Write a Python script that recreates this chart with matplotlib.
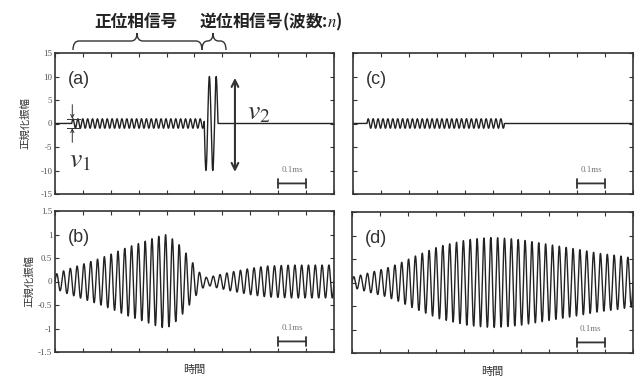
import numpy as np
import matplotlib
matplotlib.use("Agg")
import matplotlib.pyplot as plt
from matplotlib.path import Path
from matplotlib.patches import PathPatch

plt.rcParams['font.family'] = ['Noto Sans CJK JP', 'DejaVu Sans']
plt.rcParams['mathtext.fontset'] = 'stix'
plt.rcParams['axes.unicode_minus'] = False

# --- values (time in ms) ---
f_pos = 57.0            # cycles per ms, positive-phase burst (a), (c)
f_cw = 41.0             # cycles per ms, received signal (b), (d)
pos_amp = 1.0           # v1
neg_amp = 10.0          # v2
neg_cycles = 2          # n
a_start, a_end = 0.06, 0.535
c_start, c_end = 0.05, 0.54

b_env_t = [0, 0.04, 0.09, 0.15, 0.20, 0.26, 0.32, 0.37, 0.40, 0.44, 0.47, 0.49,
           0.52, 0.545, 0.57, 0.63, 0.70, 0.76, 0.85, 1.0]
b_env_a = [0.15, 0.25, 0.35, 0.47, 0.58, 0.73, 0.85, 0.96, 1.0, 0.82, 0.60, 0.43,
           0.18, 0.08, 0.12, 0.20, 0.28, 0.33, 0.35, 0.35]
d_env_t = [0, 0.015, 0.075, 0.12, 0.17, 0.22, 0.265, 0.31, 0.36, 0.41, 0.455, 0.50,
           0.55, 0.60, 0.67, 0.74, 0.81, 0.88, 0.95, 1.0]
d_env_a = [0.12, 0.13, 0.23, 0.30, 0.41, 0.55, 0.66, 0.77, 0.84, 0.91, 0.94, 0.96,
           0.94, 0.91, 0.84, 0.77, 0.70, 0.62, 0.57, 0.52]

yticks_top = [15, 10, 5, 0, -5, -10, -15]
yticks_bot = [1.5, 1, 0.5, 0, -0.5, -1, -1.5]
ytick_bot_labels = ['1.5', '1', '0.5', '0', '-0.5', '-1', '-1.5']

t = np.linspace(0, 1.0, 20000)

sig_a = np.zeros_like(t)
m = (t >= a_start) & (t < a_end)
sig_a[m] = pos_amp * np.sin(2 * np.pi * f_pos * (t[m] - a_start))
a_neg_end = a_end + neg_cycles / f_cw
m = (t >= a_end) & (t < a_neg_end)
sig_a[m] = -neg_amp * np.sin(2 * np.pi * f_cw * (t[m] - a_end))

sig_c = np.zeros_like(t)
m = (t >= c_start) & (t < c_end)
sig_c[m] = pos_amp * np.sin(2 * np.pi * f_pos * (t[m] - c_start))

sig_b = np.interp(t, b_env_t, b_env_a) * np.sin(2 * np.pi * f_cw * t)
sig_d = np.interp(t, d_env_t, d_env_a) * np.sin(2 * np.pi * f_cw * t)

W, H = 643, 376
fig = plt.figure(figsize=(W / 100, H / 100), dpi=100)


def px_axes(l, top, r, b):
    return fig.add_axes([l / W, 1 - b / H, (r - l) / W, (b - top) / H])


ax_a = px_axes(55, 53, 334, 194)
ax_c = px_axes(353, 53, 633, 194)
ax_b = px_axes(55, 211, 334, 352)
ax_d = px_axes(352, 212, 633, 353)

line_col = '#222222'
for ax, sig, lab in [(ax_a, sig_a, '(a)'), (ax_c, sig_c, '(c)'),
                     (ax_b, sig_b, '(b)'), (ax_d, sig_d, '(d)')]:
    ax.plot(t, sig, color=line_col, lw=1.0)
    ax.set_xlim(0, 1.0)
    ax.set_xticks(np.arange(0, 1.01, 0.1))
    ax.set_xticklabels([])
    ax.tick_params(direction='in', length=3, width=0.8, top=True, right=True,
                   labelsize=6.5, labelcolor='#555555', colors='#333333', pad=2)
    for s in ax.spines.values():
        s.set_linewidth(1.2)
        s.set_color('#333333')
    ax.text(0.045, 0.81, lab, transform=ax.transAxes, fontsize=13,
            family='Liberation Sans', color='#333333', va='center', ha='left')
    # 0.1 ms scale bar
    yb = 0.075
    ax.annotate('', xy=(0.8, yb), xytext=(0.9, yb), xycoords=ax.get_xaxis_transform(),
                arrowprops=dict(arrowstyle='|-|', lw=1.3, color='#333333', mutation_scale=3,
                                shrinkA=0, shrinkB=0))
    ax.text(0.85, yb + 0.095, '0.1ms', transform=ax.get_xaxis_transform(), fontsize=6.5,
            family='Liberation Serif', color='#777777', ha='center', va='center')

for ax in (ax_a, ax_c):
    ax.set_ylim(-15, 15)
    ax.set_yticks(yticks_top)
for ax in (ax_b, ax_d):
    ax.set_ylim(-1.5, 1.5)
    ax.set_yticks(yticks_bot)

for lab in ax_a.get_yticklabels():
    lab.set_family('Liberation Serif')
ax_b.set_yticklabels(ytick_bot_labels, family='Liberation Serif')
ax_c.set_yticklabels([])
ax_d.set_yticklabels([])

ax_a.set_ylabel('正規化振幅', fontsize=7.5, color='#333333', labelpad=7)
ax_b.set_ylabel('正規化振幅', fontsize=7.5, color='#333333', labelpad=3)
ax_b.set_xlabel('時間', fontsize=8, color='#333333', labelpad=7)
ax_d.set_xlabel('時間', fontsize=8, color='#333333', labelpad=8)

# v1 marker
ax_a.plot([0.043, 0.09], [pos_amp, pos_amp], color='#333333', lw=0.7)
ax_a.plot([0.043, 0.09], [-pos_amp, -pos_amp], color='#333333', lw=0.7)
ax_a.annotate('', xy=(0.062, pos_amp), xytext=(0.062, 4.0),
              arrowprops=dict(arrowstyle='->', lw=0.7, color='#333333', mutation_scale=6, shrinkA=0, shrinkB=0))
ax_a.annotate('', xy=(0.062, -pos_amp), xytext=(0.062, -4.0),
              arrowprops=dict(arrowstyle='->', lw=0.7, color='#333333', mutation_scale=6, shrinkA=0, shrinkB=0))
ax_a.text(0.09, -7.6, r'$v_1$', fontsize=20, color='#333333', ha='center', va='center')

# v2 marker
ax_a.annotate('', xy=(0.645, 9.7), xytext=(0.645, -10.3),
              arrowprops=dict(arrowstyle='<->', lw=1.5, color='#333333', mutation_scale=12, shrinkA=0, shrinkB=0))
ax_a.text(0.73, 2.6, r'$v_2$', fontsize=20, color='#333333', ha='center', va='center')


def brace(x0, x1, xc, yl, ym, yt):
    r = min(6, (xc - x0) / 2, (x1 - xc) / 2)
    pts = [(x0, yl), (x0, ym), (x0 + r, ym), (xc - r, ym), (xc, ym), (xc, yt),
           (xc, ym), (xc + r, ym), (x1 - r, ym), (x1, ym), (x1, yl)]
    codes = [Path.MOVETO, Path.CURVE3, Path.CURVE3, Path.LINETO, Path.CURVE3, Path.CURVE3,
             Path.CURVE3, Path.CURVE3, Path.LINETO, Path.CURVE3, Path.CURVE3]
    pts = [(x / W, 1 - y / H) for x, y in pts]
    fig.add_artist(PathPatch(Path(pts, codes), fill=False, lw=1.0, ec='#333333',
                             transform=fig.transFigure))


brace(73, 202, 137, 50, 41, 33)
brace(202, 226, 213, 50, 41, 33)

fig.text(136 / W, 1 - 22 / H, '正位相信号', fontsize=12, color='#222222',
         ha='center', va='center', fontweight='bold')
fig.text(199 / W, 1 - 22 / H, '逆位相信号(波数:$n$)', fontsize=12, color='#222222',
         ha='left', va='center', fontweight='bold')

fig.savefig('out.png', dpi=100)
